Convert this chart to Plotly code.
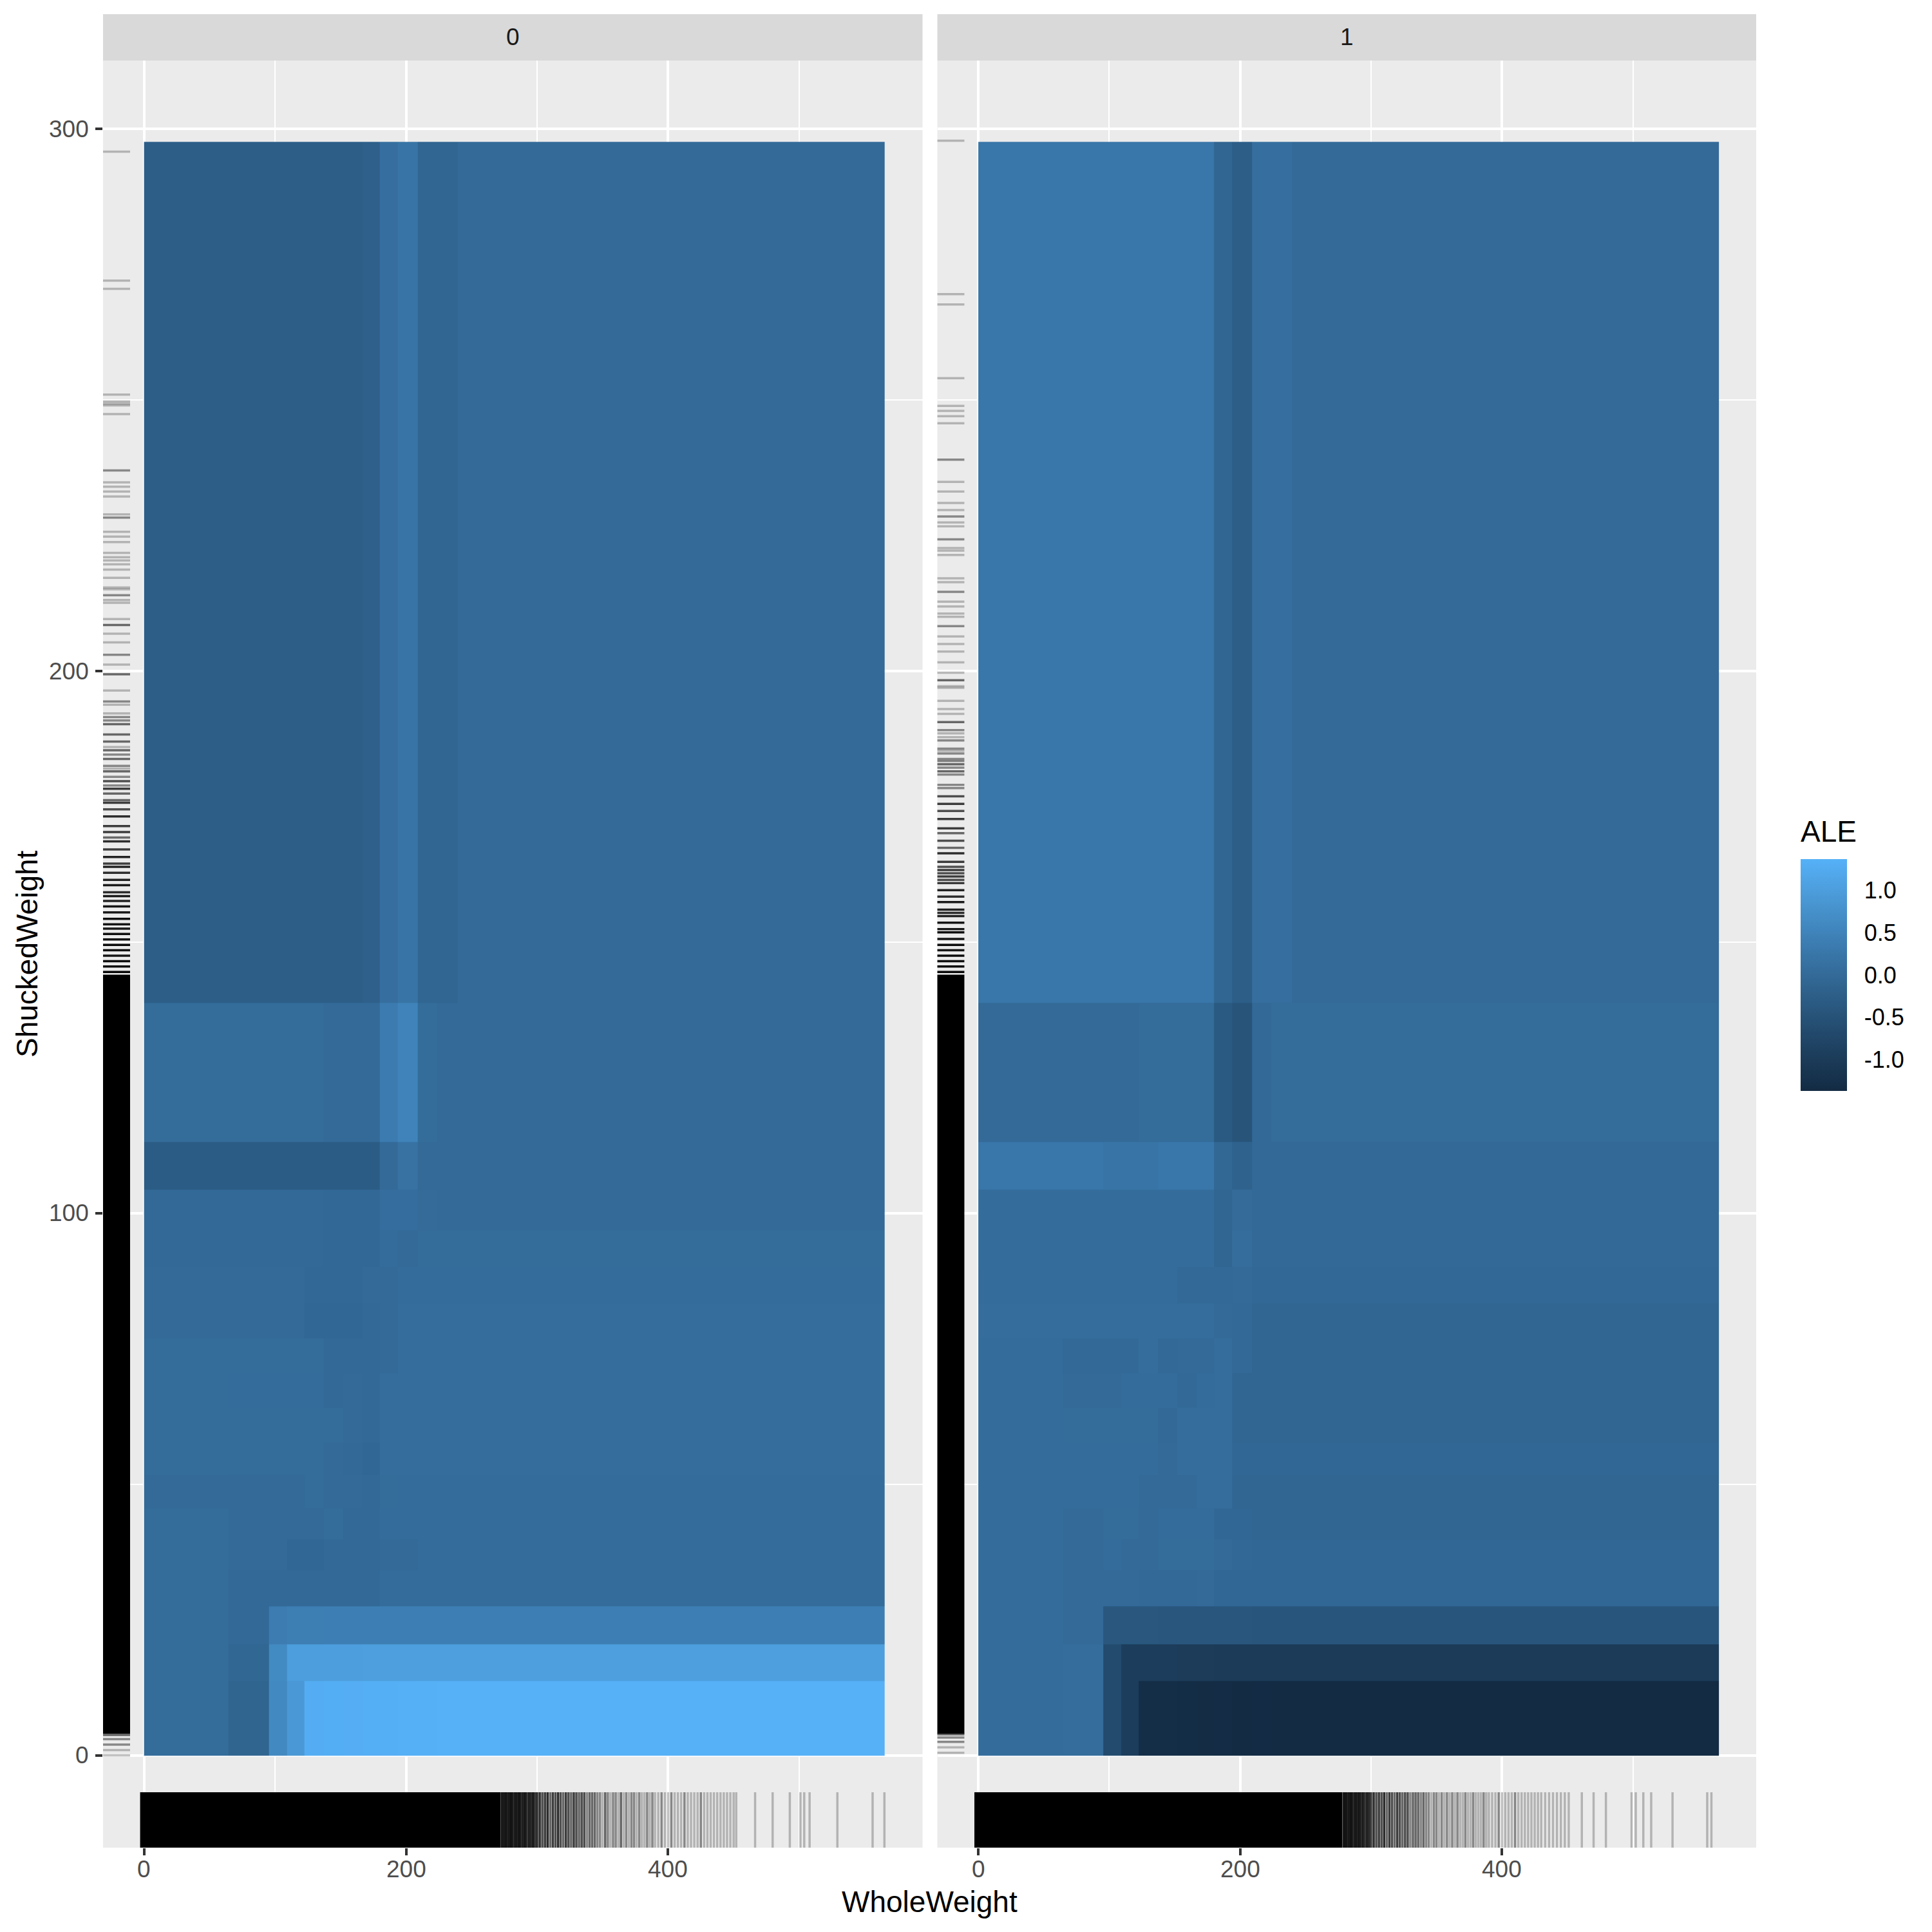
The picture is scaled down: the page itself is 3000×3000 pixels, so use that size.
import plotly.graph_objects as go

# ---------------- data ----------------
facets = ["0", "1"]
x_edges = [0, 64.2, 95.3, 109.2, 122.3, 137.1, 151.9, 166.7, 180.0, 193.7, 208.9, 223.7, 239.5, 565.5]
y_edges = [0, 13.7, 20.5, 27.5, 34.2, 39.9, 45.6, 51.7, 57.7, 64.1, 70.5, 76.9, 83.3, 90.1,
           96.9, 104.4, 113.2, 138.8, 297.6]

ale_0 = [
    [0.03, -0.12, 0.60, 0.90, 1.30, 1.31, 1.32, 1.33, 1.34, 1.35, 1.36, 1.37, 1.37],
    [0.03, -0.07, 0.62, 1.00, 1.00, 1.01, 1.01, 1.02, 1.02, 1.03, 1.03, 1.03, 1.03],
    [0.03, -0.02, 0.37, 0.40, 0.40, 0.41, 0.41, 0.42, 0.42, 0.42, 0.42, 0.42, 0.42],
    [0.03, -0.02, -0.02, -0.02, -0.02, -0.02, -0.02, -0.02, 0.05, 0.05, 0.05, 0.05, 0.05],
    [0.03, 0.00, -0.01, -0.06, -0.06, -0.02, -0.02, -0.02, 0.00, -0.01, 0.05, 0.05, 0.05],
    [0.03, 0.00, -0.01, -0.01, -0.01, 0.03, -0.02, -0.02, 0.05, 0.05, 0.05, 0.05, 0.05],
    [0.00, -0.01, -0.01, -0.01, 0.03, 0.00, 0.00, -0.02, 0.03, 0.05, 0.05, 0.05, 0.05],
    [0.03, 0.03, 0.03, 0.03, 0.03, 0.00, -0.02, -0.06, 0.06, 0.06, 0.06, 0.06, 0.06],
    [0.03, 0.03, 0.03, 0.03, 0.03, 0.03, 0.00, -0.02, 0.06, 0.06, 0.06, 0.06, 0.06],
    [0.03, 0.05, 0.05, 0.05, 0.05, -0.02, 0.00, -0.02, 0.06, 0.06, 0.06, 0.06, 0.06],
    [0.03, 0.03, 0.03, 0.03, 0.03, -0.02, -0.02, -0.02, 0.00, 0.06, 0.06, 0.06, 0.06],
    [0.00, 0.00, 0.00, 0.00, -0.06, -0.06, -0.06, -0.02, 0.00, 0.06, 0.06, 0.06, 0.06],
    [0.00, 0.00, 0.00, 0.00, -0.04, -0.04, -0.04, 0.00, 0.00, 0.05, 0.05, 0.05, 0.05],
    [-0.02, -0.02, -0.02, -0.02, -0.02, -0.04, -0.04, -0.04, 0.05, 0.00, 0.03, 0.03, 0.03],
    [-0.02, -0.02, -0.02, -0.02, -0.02, -0.04, -0.04, -0.04, 0.08, 0.08, 0.02, 0.00, 0.00],
    [-0.30, -0.30, -0.30, -0.30, -0.30, -0.30, -0.30, -0.30, 0.00, 0.15, 0.00, 0.00, 0.00],
    [0.03, 0.03, 0.03, 0.03, 0.03, 0.00, 0.00, 0.00, 0.35, 0.50, 0.03, 0.00, 0.00],
    [-0.25, -0.25, -0.25, -0.25, -0.25, -0.25, -0.25, -0.20, 0.10, 0.22, -0.10, -0.10, 0.00],
]

ale_1 = [
    [0.05, 0.06, -0.65, -0.95, -1.30, -1.31, -1.32, -1.33, -1.34, -1.35, -1.36, -1.37, -1.37],
    [0.05, 0.07, -0.65, -0.95, -0.96, -0.97, -0.98, -0.99, -1.00, -1.00, -1.00, -1.01, -1.01],
    [0.05, 0.00, -0.40, -0.40, -0.40, -0.41, -0.41, -0.42, -0.42, -0.42, -0.43, -0.43, -0.43],
    [0.05, 0.00, 0.00, 0.00, -0.02, -0.02, -0.02, 0.00, -0.06, -0.06, -0.06, -0.06, -0.06],
    [0.05, 0.00, 0.05, 0.00, 0.00, 0.03, 0.03, 0.03, 0.00, -0.04, -0.06, -0.06, -0.06],
    [0.05, -0.01, 0.03, 0.03, 0.00, 0.05, 0.05, 0.05, -0.06, -0.06, -0.09, -0.09, -0.09],
    [0.05, 0.05, 0.05, 0.05, 0.00, 0.00, 0.00, 0.07, 0.07, -0.08, -0.09, -0.09, -0.09],
    [0.05, 0.05, 0.05, 0.05, 0.05, 0.00, 0.07, 0.07, 0.07, -0.06, -0.06, -0.06, -0.06],
    [0.05, 0.03, 0.03, 0.03, 0.03, -0.02, 0.07, 0.07, 0.07, -0.09, -0.09, -0.09, -0.09],
    [0.05, -0.01, -0.01, 0.05, 0.05, 0.05, -0.02, 0.05, 0.07, -0.09, -0.09, -0.09, -0.09],
    [0.05, -0.02, -0.02, -0.02, 0.07, -0.03, 0.00, 0.00, 0.06, -0.02, -0.09, -0.09, -0.09],
    [0.07, 0.07, 0.07, 0.07, 0.07, 0.07, 0.07, 0.07, 0.00, -0.02, -0.08, -0.08, -0.08],
    [0.04, 0.04, 0.04, 0.04, 0.04, 0.04, -0.02, -0.02, -0.02, 0.00, -0.04, -0.04, -0.04],
    [0.05, 0.05, 0.05, 0.05, 0.05, 0.05, 0.05, 0.05, -0.10, 0.06, -0.03, -0.03, -0.03],
    [0.05, 0.05, 0.05, 0.05, 0.05, 0.05, 0.05, 0.05, -0.10, 0.02, -0.03, -0.03, -0.03],
    [0.25, 0.25, 0.22, 0.22, 0.22, 0.27, 0.27, 0.27, -0.05, -0.15, -0.02, -0.02, -0.02],
    [0.00, 0.00, 0.00, 0.00, 0.03, 0.03, 0.03, 0.03, -0.35, -0.45, -0.02, 0.03, 0.03],
    [0.25, 0.25, 0.25, 0.25, 0.25, 0.25, 0.25, 0.25, -0.10, -0.25, 0.10, 0.10, 0.00],
]

# rug observations: (value, number of overlapping observations); solid spans = fully black rug
rug_x_solid_0 = [(-3, 272)]
rug_x_0 = [(273, 9), (274.5, 8), (276, 9), (277.5, 7), (279, 8), (280.5, 9), (282, 6), (283.5, 8),
           (285, 7), (286.5, 9), (288, 6), (289.5, 7), (291, 8), (292.5, 5), (294, 7), (295.5, 6),
           (297, 8), (298.5, 5), (300, 6), (302, 6), (304, 4), (306, 5), (308, 6), (310, 3), (312, 5),
           (314, 4), (316, 6), (318, 4), (320, 3), (322, 5), (324, 4), (326, 3), (328, 5), (330, 4),
           (332, 3), (334, 4), (336, 4), (338, 2), (340, 3), (342, 3), (344, 3), (346, 2), (348, 2),
           (350, 1), (352, 3), (354, 2), (356, 1), (358, 2), (360, 2), (362, 1), (364, 3), (366, 1),
           (368, 2), (370, 1), (372, 2), (374, 2), (376, 1), (378, 2), (380, 1), (382, 1), (384, 2),
           (386, 1), (388, 2), (390, 1), (392.5, 1), (395, 2), (397.5, 1), (400, 1), (402.5, 2),
           (405, 1), (407.5, 1), (410, 1), (412.5, 2), (415, 1), (417.5, 1), (420, 1), (422.5, 1),
           (425, 2), (427.5, 1), (430, 1), (432.5, 1), (435, 1), (437.5, 1), (440, 1), (442.5, 1),
           (445, 1), (447.5, 1), (450, 1), (452, 1), (466.4, 1), (479.8, 1), (492.9, 1), (501, 1),
           (503.9, 1), (508, 1), (529.2, 1), (556.1, 1), (565.1, 1)]
rug_x_solid_1 = [(-3, 278)]
rug_x_1 = [(279, 8), (280.5, 9), (282, 7), (283.5, 8), (285, 9), (286.5, 6), (288, 8), (289.5, 7),
           (291, 8), (292.5, 6), (294, 7), (295.5, 5), (297, 7), (298.5, 6), (300, 5), (302, 6),
           (304, 4), (306, 5), (308, 4), (310, 6), (312, 3), (314, 5), (316, 4), (318, 3), (320, 5),
           (322, 4), (324, 3), (326, 4), (328, 4), (330, 2), (332, 3), (334, 3), (336, 3), (338, 2),
           (340, 3), (342, 2), (344, 2), (346, 1), (348, 2), (350, 2), (352, 1), (354, 2), (356, 1),
           (358, 2), (360, 1), (362, 2), (364, 1), (366, 2), (368, 1), (370, 1), (372, 2), (374, 1),
           (376, 1), (378, 2), (380, 1), (382, 1), (384, 1), (386, 2), (388, 1), (390, 1), (392.5, 1),
           (395, 1), (397.5, 2), (400, 1), (402.5, 1), (405, 1), (407.5, 1), (410, 2), (412.5, 1),
           (415, 1), (417.5, 1), (420, 1), (422.5, 1), (425, 1), (427.5, 1), (430, 1), (433, 1),
           (436, 1), (439, 1), (442, 1), (445, 1), (448, 1), (451, 1), (461, 1), (470, 1), (479.4, 1),
           (499, 1), (502.2, 1), (508, 1), (514, 1), (530.3, 1), (556.8, 1), (560, 1)]
rug_y_solid_0 = [(4, 144)]
rug_y_0 = [(0, 1), (1, 1), (2, 2), (3, 2), (3.8, 3), (144.5, 12), (145.5, 10), (146.5, 11),
           (147.5, 9), (148.5, 10), (149.5, 11), (150.5, 9), (151.5, 10), (152.5, 8), (153.3, 9),
           (154.3, 10), (155.5, 8), (156.6, 9), (157.6, 7), (158.5, 8), (159.2, 6), (160.5, 8),
           (161.5, 7), (162.8, 6), (163.9, 7), (164.5, 5), (165.7, 7), (167.1, 5), (168.6, 6),
           (169.3, 3), (170.3, 5), (171.4, 5), (173.2, 6), (174.5, 4), (175.7, 5), (176.2, 3),
           (177.4, 3), (178.3, 5), (178.9, 2), (179.7, 4), (180.5, 2), (181.5, 3), (182, 1), (182.5, 2),
           (183.8, 3), (184.6, 2), (185.4, 3), (186, 1), (187, 3), (188.3, 3), (190.2, 3), (190.9, 2),
           (191.5, 2), (192.2, 1), (193.8, 1), (194.4, 2), (196.4, 1), (199.4, 3), (201.2, 1),
           (203, 2), (205.3, 1), (206.9, 1), (208.5, 3), (209.6, 1), (212.6, 1), (213.1, 1), (214, 2),
           (215.1, 1), (215.4, 1), (217.2, 1), (218.7, 1), (219.7, 1), (220.4, 1), (221, 1),
           (221.8, 1), (223.8, 1), (224.8, 1), (225.7, 1), (228.3, 2), (228.9, 1), (232.2, 1),
           (233.1, 1), (234, 1), (234.8, 1), (237, 2), (247.4, 1), (249, 1), (249.3, 1), (249.7, 1),
           (251, 1), (270.5, 1), (272, 1), (295.8, 1)]
rug_y_solid_1 = [(4, 144)]
rug_y_1 = [(0.5, 1), (1.5, 1), (2.5, 2), (3.3, 2), (3.9, 3), (144.5, 11), (145.5, 12), (146.5, 10),
           (147.5, 11), (148.5, 9), (149.5, 10), (150.6, 9), (151.8, 10), (152.4, 8), (153.6, 9),
           (154.8, 7), (155.4, 6), (156, 7), (157.4, 8), (158.4, 6), (159.6, 7), (160.9, 5),
           (161.5, 4), (162.1, 5), (162.7, 4), (163.3, 5), (163.9, 4), (164.8, 5), (166.4, 6),
           (167.4, 3), (168.7, 4), (170.1, 3), (171, 5), (172.7, 5), (174.2, 4), (175.5, 5),
           (176.9, 4), (178.4, 2), (179, 2), (180.9, 2), (181.5, 3), (182.2, 2), (182.8, 3),
           (183.4, 2), (183.8, 2), (184.8, 2), (185.3, 1), (185.7, 2), (187.2, 2), (187.8, 1),
           (188.5, 1), (189.1, 2), (190.6, 3), (192.1, 1), (193, 1), (194.5, 1), (196.9, 1),
           (197.2, 1), (198.3, 3), (199.7, 1), (201.6, 1), (203.6, 1), (205, 1), (206.4, 1),
           (208.3, 2), (210, 1), (210.6, 1), (211.9, 1), (212.8, 1), (214.6, 2), (216.4, 1),
           (217.1, 1), (221.4, 1), (222.2, 1), (222.7, 1), (224.3, 2), (226.7, 1), (227.4, 1),
           (228.5, 2), (229.7, 1), (231, 1), (233.1, 1), (234.9, 1), (239, 2), (245.7, 1), (247, 1),
           (248, 1), (248.9, 1), (254, 1), (267.6, 1), (269.5, 1), (297.8, 1)]

x_ticks = [0, 200, 400]
y_ticks = [0, 100, 200, 300]
legend_ticks = [-1.0, -0.5, 0.0, 0.5, 1.0]

# ---------------- colour scale (ggplot-like Lab interpolation) ----------------
def _lin(c):
    c = c / 255.0
    return c / 12.92 if c <= 0.04045 else ((c + 0.055) / 1.055) ** 2.4

def _gam(c):
    c = max(0.0, min(1.0, c))
    v = 12.92 * c if c <= 0.0031308 else 1.055 * c ** (1 / 2.4) - 0.055
    return int(round(v * 255))

def hex_to_lab(h):
    r, g, b = [_lin(int(h[i:i + 2], 16)) for i in (1, 3, 5)]
    X = (0.4124 * r + 0.3576 * g + 0.1805 * b) / 0.95047
    Y = 0.2126 * r + 0.7152 * g + 0.0722 * b
    Z = (0.0193 * r + 0.1192 * g + 0.9505 * b) / 1.08883
    f = lambda t: t ** (1 / 3) if t > 0.008856 else 7.787 * t + 16 / 116
    fx, fy, fz = f(X), f(Y), f(Z)
    return (116 * fy - 16, 500 * (fx - fy), 200 * (fy - fz))

def lab_to_hex(L, a, b):
    fy = (L + 16) / 116
    fx = fy + a / 500
    fz = fy - b / 200
    finv = lambda t: t ** 3 if t ** 3 > 0.008856 else (t - 16 / 116) / 7.787
    X, Y, Z = finv(fx) * 0.95047, finv(fy), finv(fz) * 1.08883
    r = 3.2406 * X - 1.5372 * Y - 0.4986 * Z
    g = -0.9689 * X + 1.8758 * Y + 0.0415 * Z
    bb = 0.0557 * X - 0.2040 * Y + 1.0570 * Z
    return "#%02x%02x%02x" % (_gam(r), _gam(g), _gam(bb))

lo, hi = hex_to_lab("#132B43"), hex_to_lab("#56B1F7")
N = 24
colorscale = [[i / N, lab_to_hex(*[lo[k] + (hi[k] - lo[k]) * i / N for k in range(3)])] for i in range(N + 1)]

zmin = min(min(r) for r in ale_0 + ale_1)
zmax = max(max(r) for r in ale_0 + ale_1)

# ---------------- layout geometry ----------------
W = H = 3000
px = lambda v: v / W
pyy = lambda v: 1 - v / H
dom_x = [[px(160), px(1432.5)], [px(1455.5), px(2727)]]
dom_y = [pyy(2869), pyy(94)]
x_range = [-31.3, 594.2]
y_range = [-17.0, 312.6]
FONT = "Liberation Sans, Arial, sans-serif"

fig = go.Figure()
for i, z in enumerate([ale_0, ale_1]):
    fig.add_trace(go.Heatmap(
        x=x_edges, y=y_edges, z=z, coloraxis="coloraxis", zsmooth=False,
        xaxis="x" if i == 0 else "x2", yaxis="y" if i == 0 else "y2",
        hoverinfo="skip"))

def axis(domain, rng, tickvals, minor_vals, anchor, show_ticks=True):
    return dict(
        domain=domain, range=rng, tickvals=tickvals, anchor=anchor, showticklabels=False,
        showline=False, zeroline=False, showgrid=True, gridcolor="white", gridwidth=4.4,
        ticks="outside" if show_ticks else "", ticklen=11, tickwidth=4.4, tickcolor="#333333",
        minor=dict(tickvals=minor_vals, showgrid=True, gridcolor="white", gridwidth=2.2, ticks=""),
    )

fig.update_layout(
    width=W, height=H, margin=dict(l=0, r=0, t=0, b=0),
    paper_bgcolor="white", plot_bgcolor="#EBEBEB", showlegend=False,
    font=dict(family=FONT),
    xaxis=axis(dom_x[0], x_range, x_ticks, [100, 300, 500], "y"),
    xaxis2=axis(dom_x[1], x_range, x_ticks, [100, 300, 500], "y2"),
    yaxis=axis(dom_y, y_range, y_ticks, [50, 150, 250], "x"),
    yaxis2=axis(dom_y, y_range, y_ticks, [50, 150, 250], "x2", show_ticks=False),
    coloraxis=dict(
        colorscale=colorscale, cmin=zmin, cmax=zmax,
        colorbar=dict(
            x=px(2796), xanchor="left", xpad=0, ypad=0,
            y=pyy(1514), yanchor="middle", len=360 / H, lenmode="fraction",
            thickness=72, thicknessmode="pixels", outlinewidth=0,
            tickvals=legend_ticks, ticktext=["%.1f" % t for t in legend_ticks],
            ticks="outside", ticklen=20, tickcolor="rgba(0,0,0,0)",
            tickfont=dict(family=FONT, size=36, color="black"),
            title=dict(text=""),
        ),
    ),
)

shapes = []
annotations = []
# facet strips
for i, lab in enumerate(facets):
    shapes.append(dict(type="rect", xref="paper", yref="paper", x0=dom_x[i][0], x1=dom_x[i][1],
                       y0=pyy(94), y1=pyy(22), fillcolor="#D9D9D9", line=dict(width=0), layer="below"))
    annotations.append(dict(text=lab, xref="paper", yref="paper", x=(dom_x[i][0] + dom_x[i][1]) / 2,
                            y=pyy(58), xanchor="center", yanchor="middle", showarrow=False,
                            font=dict(family=FONT, size=37, color="#1A1A1A")))

# tick labels placed on the axes' own scales
for xa in ("x", "x2"):
    for t in x_ticks:
        annotations.append(dict(text=str(t), xref=xa, yref="paper", x=t, y=pyy(2902),
                                xanchor="center", yanchor="middle", showarrow=False,
                                font=dict(family=FONT, size=37, color="#4D4D4D")))
for t in y_ticks:
    annotations.append(dict(text=str(t), xref="paper", yref="y", x=px(140), y=t,
                            xanchor="right", yanchor="middle", showarrow=False,
                            font=dict(family=FONT, size=37, color="#4D4D4D")))

# rugs
RUG_A = 0.24
rug_sets = [(rug_x_solid_0, rug_x_0, rug_y_solid_0, rug_y_0, "x", "y"),
            (rug_x_solid_1, rug_x_1, rug_y_solid_1, rug_y_1, "x2", "y2")]
for xs_solid, xs, ys_solid, ys, xa, ya in rug_sets:
    for a, b in xs_solid:
        shapes.append(dict(type="rect", xref=xa, yref=ya + " domain", x0=a, x1=b, y0=0, y1=0.031,
                           fillcolor="black", line=dict(width=0)))
    for v, n in xs:
        op = 1 - (1 - RUG_A) ** n
        shapes.append(dict(type="line", xref=xa, yref=ya + " domain", x0=v, x1=v, y0=0, y1=0.031,
                           line=dict(color="rgba(0,0,0,%.3f)" % op, width=3.5)))
    for a, b in ys_solid:
        shapes.append(dict(type="rect", xref=xa + " domain", yref=ya, x0=0, x1=0.033, y0=a, y1=b,
                           fillcolor="black", line=dict(width=0)))
    for v, n in ys:
        op = 1 - (1 - RUG_A) ** n
        shapes.append(dict(type="line", xref=xa + " domain", yref=ya, x0=0, x1=0.033, y0=v, y1=v,
                           line=dict(color="rgba(0,0,0,%.3f)" % op, width=3.5)))

# white tick marks inside the colour bar
bar_bottom, bar_top = pyy(1694), pyy(1334)
for t in legend_ticks:
    yy = bar_bottom + (t - zmin) / (zmax - zmin) * (bar_top - bar_bottom)
    for x0, x1 in ((2796, 2809), (2855, 2868)):
        shapes.append(dict(type="line", xref="paper", yref="paper", x0=px(x0), x1=px(x1), y0=yy, y1=yy,
                           line=dict(color="white", width=2)))

annotations.append(dict(text="ALE", xref="paper", yref="paper", x=px(2794), y=pyy(1291),
                        xanchor="left", yanchor="middle", showarrow=False,
                        font=dict(family=FONT, size=46, color="black")))
annotations.append(dict(text="WholeWeight", xref="paper", yref="paper", x=px(1443), y=pyy(2953),
                        xanchor="center", yanchor="middle", showarrow=False,
                        font=dict(family=FONT, size=46, color="black")))
annotations.append(dict(text="ShuckedWeight", xref="paper", yref="paper", x=px(42), y=pyy(1481),
                        xanchor="center", yanchor="middle", showarrow=False, textangle=-90,
                        font=dict(family=FONT, size=46, color="black")))

fig.update_layout(shapes=shapes, annotations=annotations)
fig.write_html("out.html")
